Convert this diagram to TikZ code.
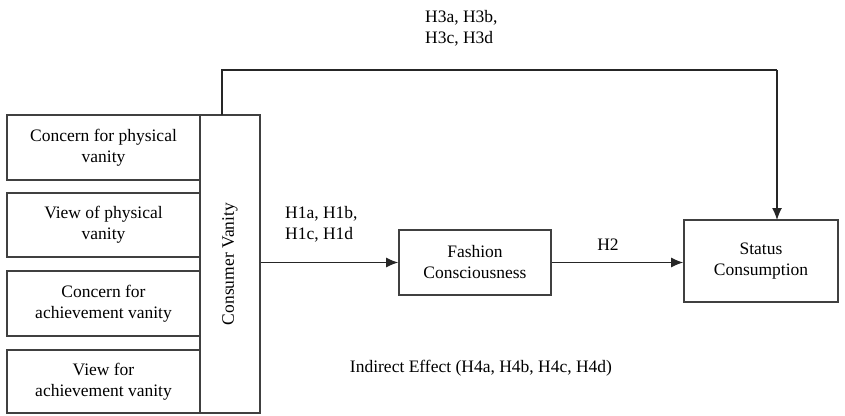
\documentclass[tikz,border=0pt]{standalone}
\usepackage{fontspec}
\setmainfont{Liberation Serif}
\usetikzlibrary{arrows.meta}
\begin{document}
\begin{tikzpicture}[x=1pt,y=-1pt,
  box/.style={draw=black!75,line width=1.6pt,inner sep=0pt,align=center,font=\fontsize{17.5}{21}\selectfont},
  lbl/.style={font=\fontsize{17.5}{21}\selectfont,align=left,inner sep=0pt},
  conn/.style={draw=black!85,line width=1.3pt},
  arr/.style={conn,-{Latex[length=12pt,width=10pt]}}]
\useasboundingbox (0,0) rectangle (845,415);
% left boxes
\node[box,minimum width=193pt,minimum height=65pt] (b1) at (103.5,147.5) {Concern for physical\\vanity};
\node[box,minimum width=193pt,minimum height=64pt] (b2) at (103.5,225) {View of physical\\vanity};
\node[box,minimum width=193pt,minimum height=65pt] (b3) at (103.5,303.5) {Concern for\\achievement vanity};
\node[box,minimum width=193pt,minimum height=63pt] (b4) at (103.5,381.5) {View for\\achievement vanity};
% consumer vanity
\node[box,minimum width=60pt,minimum height=298pt] (cv) at (230,264) {};
\node[lbl,rotate=90] (cvt) at (cv.center) {Consumer Vanity};
% fashion consciousness
\node[box,minimum width=152pt,minimum height=65pt] (fc) at (475,262.5) {Fashion\\Consciousness};
% status consumption
\node[box,minimum width=154pt,minimum height=82pt] (sc) at (761,261) {Status\\Consumption};
% connectors
\draw[arr] (cv.east |- fc.west) -- (fc.west);
\draw[arr] (fc.east) -- (fc.east -| sc.west);
\coordinate (t1) at (222,115);
\coordinate (t2) at (222,70);
\coordinate (t3) at (777,70);
\coordinate (t4) at (777,220);
\draw[conn] (t1) -- (t2) -- (t3);
\draw[arr] (t3) -- (t4);
% labels
\node[lbl,anchor=west] (h1) at (285,224) {H1a, H1b,\\H1c, H1d};
\node[lbl] (h2) at (608,245) {H2};
\node[lbl,anchor=west] (h3) at (425,28) {H3a, H3b,\\H3c, H3d};
\node[lbl] (h4) at (481,368) {Indirect Effect (H4a, H4b, H4c, H4d)};
\end{tikzpicture}
\end{document}
